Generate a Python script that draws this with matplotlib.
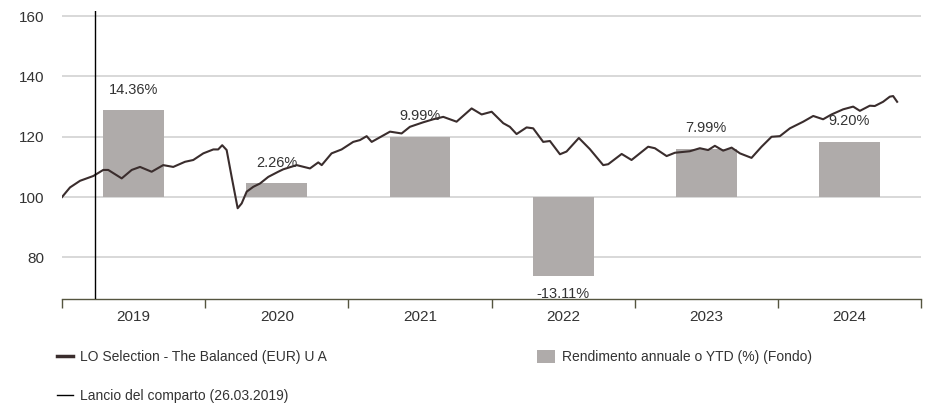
import matplotlib
matplotlib.use("Agg")
import matplotlib.pyplot as plt
from matplotlib.lines import Line2D
from matplotlib.patches import Patch

plt.rcParams['font.family'] = ['Liberation Sans', 'DejaVu Sans']

# fund value (base 100), dates as fractional years
t = [2019.000, 2019.056, 2019.126, 2019.219, 2019.288, 2019.323, 2019.417, 2019.487,
     2019.545, 2019.626, 2019.707, 2019.777, 2019.859, 2019.917, 2019.987, 2020.057,
     2020.091, 2020.119, 2020.150, 2020.185, 2020.227, 2020.255, 2020.290, 2020.336,
     2020.383, 2020.441, 2020.510, 2020.545, 2020.639, 2020.732, 2020.790, 2020.814,
     2020.883, 2020.953, 2021.034, 2021.081, 2021.128, 2021.163, 2021.291, 2021.372,
     2021.430, 2021.523, 2021.593, 2021.663, 2021.756, 2021.861, 2021.931, 2022.001,
     2022.082, 2022.128, 2022.175, 2022.245, 2022.291, 2022.361, 2022.408, 2022.478,
     2022.524, 2022.610, 2022.687, 2022.780, 2022.815, 2022.909, 2022.978, 2023.094,
     2023.141, 2023.223, 2023.281, 2023.385, 2023.455, 2023.513, 2023.560, 2023.618,
     2023.677, 2023.735, 2023.816, 2023.886, 2023.956, 2024.014, 2024.084, 2024.177,
     2024.247, 2024.316, 2024.375, 2024.456, 2024.526, 2024.573, 2024.642, 2024.677,
     2024.735, 2024.782, 2024.805, 2024.833]
nav = [100.0, 103.2, 105.4, 107.0, 109.0, 109.0, 106.2, 109.0,
       110.0, 108.4, 110.6, 110.0, 111.7, 112.3, 114.5, 115.8,
       115.8, 117.2, 115.6, 106.7, 96.3, 97.9, 101.8, 103.4,
       104.5, 106.7, 108.4, 109.2, 110.6, 109.5, 111.5, 110.6,
       114.5, 115.8, 118.3, 118.9, 120.2, 118.3, 121.7, 121.1,
       123.3, 124.8, 125.8, 126.6, 125.0, 129.4, 127.4, 128.3,
       124.5, 123.3, 120.9, 123.1, 122.8, 118.3, 118.6, 114.2,
       115.1, 119.6, 115.9, 110.6, 110.9, 114.3, 112.3, 116.7,
       116.2, 113.6, 114.7, 115.2, 116.2, 115.6, 117.0, 115.4,
       116.4, 114.5, 113.0, 116.7, 120.0, 120.2, 122.8, 125.0,
       126.9, 125.8, 127.4, 129.1, 130.0, 128.6, 130.3, 130.2,
       131.6, 133.3, 133.5, 131.6]

years = [2019, 2020, 2021, 2022, 2023, 2024]
returns = [14.36, 2.26, 9.99, -13.11, 7.99, 9.20]
return_labels = ["14.36%", "2.26%", "9.99%", "-13.11%", "7.99%", "9.20%"]
launch = 2019 + 85 / 365  # 26.03.2019

line_color = "#3a2d2d"
bar_color = "#afabaa"
axis_color = "#55553f"
text_color = "#333333"

fig = plt.figure(figsize=(9.28, 4.05), dpi=100)
ax = fig.add_axes([0.0668, 0.2617, 0.9257, 0.7111])

# bars drawn around base 100 (scaled x2)
centers = [y + 0.5 for y in years]
heights = [2 * r for r in returns]
ax.bar(centers, heights, bottom=100, width=0.425, color=bar_color, zorder=2)
for c, h, lab in zip(centers, heights, return_labels):
    if h >= 0:
        ax.annotate(lab, (c, 100 + h), xytext=(0, 10), textcoords="offset points",
                    ha="center", va="bottom", fontsize=10.5, color=text_color, zorder=4)
    else:
        ax.annotate(lab, (c, 100 + h), xytext=(0, -8), textcoords="offset points",
                    ha="center", va="top", fontsize=10.5, color=text_color, zorder=4)

ax.plot(t, nav, color=line_color, lw=1.5, zorder=3)
ax.axvline(launch, color="black", lw=1.0, zorder=3)

ax.set_xlim(2019, 2025)
ax.set_ylim(66.2, 161.7)
ax.set_yticks([80, 100, 120, 140, 160])
ax.grid(axis="y", color="#d2d2d2", lw=1.2, zorder=0)
ax.set_axisbelow(True)

ax.set_xticks(list(range(2019, 2026)))
ax.set_xticklabels([])
ax.set_xticks(centers, minor=True)
ax.set_xticklabels([str(y) for y in years], minor=True)
ax.tick_params(axis="x", which="major", length=6.5, width=1.0, color=axis_color, direction="out")
ax.tick_params(axis="x", which="minor", length=0, pad=8, labelsize=11, labelcolor=text_color)
ax.tick_params(axis="y", length=0, pad=13, labelsize=11, labelcolor=text_color)

for s in ["top", "right", "left"]:
    ax.spines[s].set_visible(False)
ax.spines["bottom"].set_color(axis_color)
ax.spines["bottom"].set_linewidth(1.0)

h1 = Line2D([], [], color=line_color, lw=2.5)
h2 = Line2D([], [], color="black", lw=1.0)
h3 = Patch(facecolor=bar_color, edgecolor="none")
leg1 = fig.legend([h1, h2], ["LO Selection - The Balanced (EUR) U A", "Lancio del comparto (26.03.2019)"],
                  loc="upper left", bbox_to_anchor=(0.061, 0.135), frameon=False, fontsize=10,
                  handlelength=1.15, handletextpad=0.5, labelspacing=1.75, borderpad=0, borderaxespad=0,
                  labelcolor=text_color)
leg2 = fig.legend([h3], ["Rendimento annuale o YTD (%) (Fondo)"],
                  loc="upper left", bbox_to_anchor=(0.579, 0.137), frameon=False, fontsize=10,
                  handlelength=1.25, handleheight=1.15, handletextpad=0.5, borderpad=0, borderaxespad=0,
                  labelcolor=text_color)

fig.savefig("out.png", dpi=100)
